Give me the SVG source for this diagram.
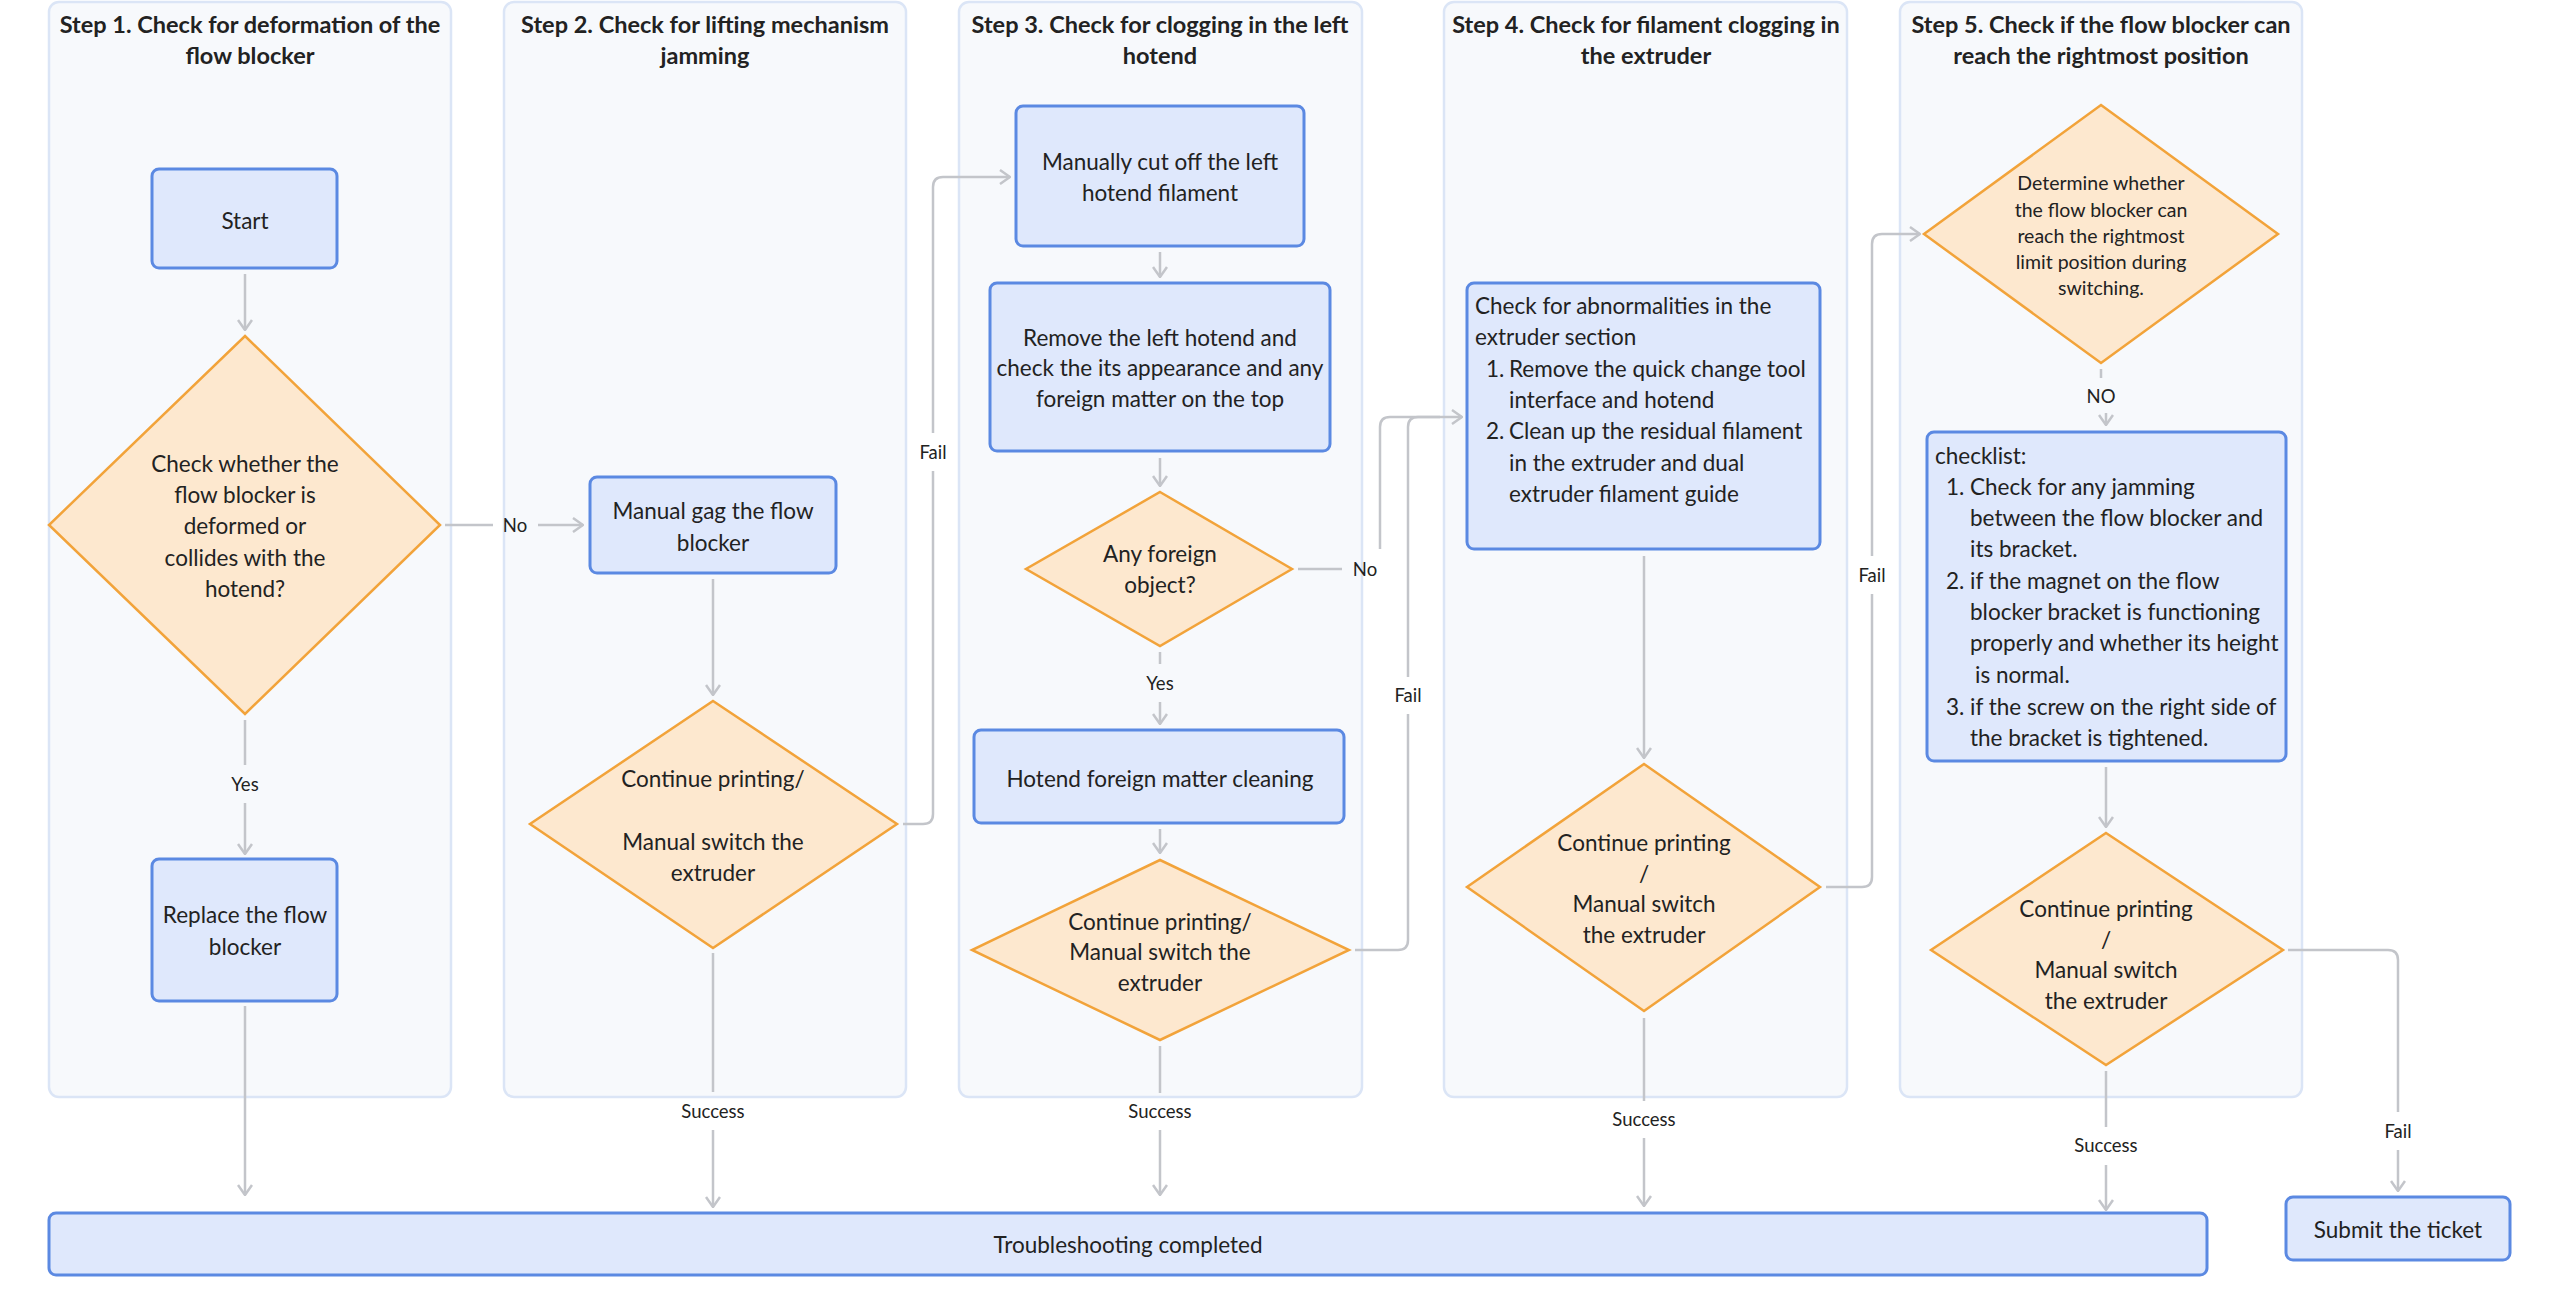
<svg xmlns="http://www.w3.org/2000/svg" width="2560" height="1304" viewBox="0 0 2560 1304">
<defs>
<style>
text{font-family:Lato,"Liberation Sans",sans-serif;fill:#222222;dominant-baseline:central}
.lane{fill:#f7f9fc;stroke:#dbe5f6;stroke-width:2.5}
.title{font-size:23.5px;font-weight:700;text-anchor:middle}
.box{fill:#dfe8fc;stroke:#5b89e2;stroke-width:3}
.dia{fill:#fde8cf;stroke:#f2a33a;stroke-width:2.5}
.t{font-size:22.5px;text-anchor:middle}
.tl{font-size:22.5px}
.ts{font-size:19.5px;text-anchor:middle}
.lbl{font-size:18.5px;text-anchor:middle}
.c{fill:none;stroke:#c3c5ca;stroke-width:2.5}
.a{marker-end:url(#arr)}
</style>
<marker id="arr" viewBox="0 0 12 16" refX="11" refY="8" markerWidth="12" markerHeight="16" markerUnits="userSpaceOnUse" orient="auto">
<path d="M1,1 L11,8 L1,15" fill="none" stroke="#c3c5ca" stroke-width="2.5"/>
</marker>
</defs>
<rect width="2560" height="1304" fill="#ffffff"/>

<g id="lanes">
<g id="lane1"><rect class="lane" x="49" y="2" width="402" height="1095" rx="10"/>
<text class="title" x="250" y="24">Step 1. Check for deformation of the</text>
<text class="title" x="250" y="55">flow blocker</text></g>
<g id="lane2"><rect class="lane" x="504" y="2" width="402" height="1095" rx="10"/>
<text class="title" x="705" y="24">Step 2. Check for lifting mechanism</text>
<text class="title" x="705" y="55">jamming</text></g>
<g id="lane3"><rect class="lane" x="959" y="2" width="403" height="1095" rx="10"/>
<text class="title" x="1160" y="24">Step 3. Check for clogging in the left</text>
<text class="title" x="1160" y="55">hotend</text></g>
<g id="lane4"><rect class="lane" x="1444" y="2" width="403" height="1095" rx="10"/>
<text class="title" x="1646" y="24">Step 4. Check for filament clogging in</text>
<text class="title" x="1646" y="55">the extruder</text></g>
<g id="lane5"><rect class="lane" x="1900" y="2" width="402" height="1095" rx="10"/>
<text class="title" x="2101" y="24">Step 5. Check if the flow blocker can</text>
<text class="title" x="2101" y="55">reach the rightmost position</text></g>
</g>

<g id="connectors">
<path class="c a" d="M245,274 V330"/>
<path class="c" d="M245,720 V765"/>
<path class="c a" d="M245,803 V854"/>
<path class="c a" d="M245,1006 V1195"/>
<path class="c" d="M445,525 H493"/>
<path class="c a" d="M538,525 H583"/>
<path class="c a" d="M713,579 V695"/>
<path class="c" d="M713,953 V1092"/>
<path class="c a" d="M713,1130 V1207"/>
<path class="c" d="M903,824 H923 Q933,824 933,814 V471"/>
<path class="c a" d="M933,433 V187 Q933,177 943,177 H1010"/>
<path class="c a" d="M1160,252 V277"/>
<path class="c a" d="M1160,458 V486"/>
<path class="c" d="M1160,652 V664"/>
<path class="c a" d="M1160,702 V724"/>
<path class="c" d="M1298,569 H1342"/>
<path class="c a" d="M1380,549 V427 Q1380,417 1390,417 H1462"/>
<path class="c a" d="M1160,829 V853"/>
<path class="c" d="M1160,1046 V1093"/>
<path class="c a" d="M1160,1130 V1195"/>
<path class="c" d="M1355,950 H1398 Q1408,950 1408,940 V714"/>
<path class="c" d="M1408,677 V427 Q1408,417 1418,417 H1440"/>
<path class="c a" d="M1644,556 V758"/>
<path class="c" d="M1644,1018 V1101"/>
<path class="c a" d="M1644,1138 V1206"/>
<path class="c" d="M1826,887 H1862 Q1872,887 1872,877 V594"/>
<path class="c a" d="M1872,556 V244 Q1872,234 1882,234 H1920"/>
<path class="c" d="M2101,369 V378"/>
<path class="c a" d="M2106,413 V425"/>
<path class="c a" d="M2106,767 V827"/>
<path class="c" d="M2106,1071 V1127"/>
<path class="c a" d="M2106,1165 V1210"/>
<path class="c" d="M2288,950 H2388 Q2398,950 2398,960 V1112"/>
<path class="c a" d="M2398,1150 V1191"/>
<text class="lbl" x="245" y="784">Yes</text>
<text class="lbl" x="515" y="525">No</text>
<text class="lbl" x="713" y="1111">Success</text>
<text class="lbl" x="933" y="452">Fail</text>
<text class="lbl" x="1160" y="683">Yes</text>
<text class="lbl" x="1365" y="569">No</text>
<text class="lbl" x="1160" y="1111">Success</text>
<text class="lbl" x="1408" y="695">Fail</text>
<text class="lbl" x="1644" y="1119">Success</text>
<text class="lbl" x="1872" y="575">Fail</text>
<text class="lbl" x="2101" y="396">NO</text>
<text class="lbl" x="2106" y="1145">Success</text>
<text class="lbl" x="2398" y="1131">Fail</text>
</g>

<g id="start"><rect class="box" x="152" y="169" width="185" height="99" rx="7"/>
<text class="t" x="245" y="220">Start</text></g>

<g id="check-deformed"><polygon class="dia" points="245,336 440,525 245,714 49,525"/>
<text class="t" x="245" y="463">Check whether the</text>
<text class="t" x="245" y="494">flow blocker is</text>
<text class="t" x="245" y="525">deformed or</text>
<text class="t" x="245" y="557">collides with the</text>
<text class="t" x="245" y="588">hotend?</text></g>

<g id="replace"><rect class="box" x="152" y="859" width="185" height="142" rx="7"/>
<text class="t" x="245" y="914">Replace the flow</text>
<text class="t" x="245" y="946">blocker</text></g>

<g id="manual-gag"><rect class="box" x="590" y="477" width="246" height="96" rx="7"/>
<text class="t" x="713" y="510">Manual gag the flow</text>
<text class="t" x="713" y="542">blocker</text></g>

<g id="continue2"><polygon class="dia" points="713,701 897,824 713,948 530,824"/>
<text class="t" x="713" y="778">Continue printing/</text>
<text class="t" x="713" y="841">Manual switch the</text>
<text class="t" x="713" y="872">extruder</text></g>

<g id="cut-filament"><rect class="box" x="1016" y="106" width="288" height="140" rx="7"/>
<text class="t" x="1160" y="161">Manually cut off the left</text>
<text class="t" x="1160" y="192">hotend filament</text></g>

<g id="remove-hotend"><rect class="box" x="990" y="283" width="340" height="168" rx="7"/>
<text class="t" x="1160" y="337">Remove the left hotend and</text>
<text class="t" x="1160" y="367">check the its appearance and any</text>
<text class="t" x="1160" y="398">foreign matter on the top</text></g>

<g id="foreign-object"><polygon class="dia" points="1160,492 1292,569 1160,646 1026,569"/>
<text class="t" x="1160" y="553">Any foreign</text>
<text class="t" x="1160" y="584">object?</text></g>

<g id="cleaning"><rect class="box" x="974" y="730" width="370" height="93" rx="7"/>
<text class="t" x="1160" y="778">Hotend foreign matter cleaning</text></g>

<g id="continue3"><polygon class="dia" points="1160,860 1349,950 1160,1040 972,950"/>
<text class="t" x="1160" y="921">Continue printing/</text>
<text class="t" x="1160" y="951">Manual switch the</text>
<text class="t" x="1160" y="982">extruder</text></g>

<g id="extruder-check"><rect class="box" x="1467" y="283" width="353" height="266" rx="7"/>
<text class="tl" x="1475" y="305">Check for abnormalities in the</text>
<text class="tl" x="1475" y="336">extruder section</text>
<text class="tl" x="1486" y="368">1.</text>
<text class="tl" x="1509" y="368">Remove the quick change tool</text>
<text class="tl" x="1509" y="399">interface and hotend</text>
<text class="tl" x="1486" y="430">2.</text>
<text class="tl" x="1509" y="430">Clean up the residual filament</text>
<text class="tl" x="1509" y="462">in the extruder and dual</text>
<text class="tl" x="1509" y="493">extruder filament guide</text></g>

<g id="continue4"><polygon class="dia" points="1644,764 1820,887 1644,1011 1467,887"/>
<text class="t" x="1644" y="842">Continue printing</text>
<text class="t" x="1644" y="873">/</text>
<text class="t" x="1644" y="903">Manual switch</text>
<text class="t" x="1644" y="934">the extruder</text></g>

<g id="rightmost"><polygon class="dia" points="2101,105 2278,234 2101,363 1924,234"/>
<text class="ts" x="2101" y="182">Determine whether</text>
<text class="ts" x="2101" y="209">the flow blocker can</text>
<text class="ts" x="2101" y="235">reach the rightmost</text>
<text class="ts" x="2101" y="261">limit position during</text>
<text class="ts" x="2101" y="287">switching.</text></g>

<g id="checklist"><rect class="box" x="1927" y="432" width="359" height="329" rx="7"/>
<text class="tl" x="1935" y="455">checklist:</text>
<text class="tl" x="1946" y="486">1.</text>
<text class="tl" x="1970" y="486">Check for any jamming</text>
<text class="tl" x="1970" y="517">between the flow blocker and</text>
<text class="tl" x="1970" y="548">its bracket.</text>
<text class="tl" x="1946" y="580">2.</text>
<text class="tl" x="1970" y="580">if the magnet on the flow</text>
<text class="tl" x="1970" y="611">blocker bracket is functioning</text>
<text class="tl" x="1970" y="642">properly and whether its height</text>
<text class="tl" x="1975" y="674">is normal.</text>
<text class="tl" x="1946" y="706">3.</text>
<text class="tl" x="1970" y="706">if the screw on the right side of</text>
<text class="tl" x="1970" y="737">the bracket is tightened.</text></g>

<g id="continue5"><polygon class="dia" points="2106,833 2283,950 2106,1065 1931,950"/>
<text class="t" x="2106" y="908">Continue printing</text>
<text class="t" x="2106" y="939">/</text>
<text class="t" x="2106" y="969">Manual switch</text>
<text class="t" x="2106" y="1000">the extruder</text></g>

<g id="completed"><rect class="box" x="49" y="1213" width="2158" height="62" rx="7"/>
<text class="t" x="1128" y="1244">Troubleshooting completed</text></g>

<g id="submit"><rect class="box" x="2286" y="1197" width="224" height="63" rx="7"/>
<text class="t" x="2398" y="1229">Submit the ticket</text></g>
</svg>
